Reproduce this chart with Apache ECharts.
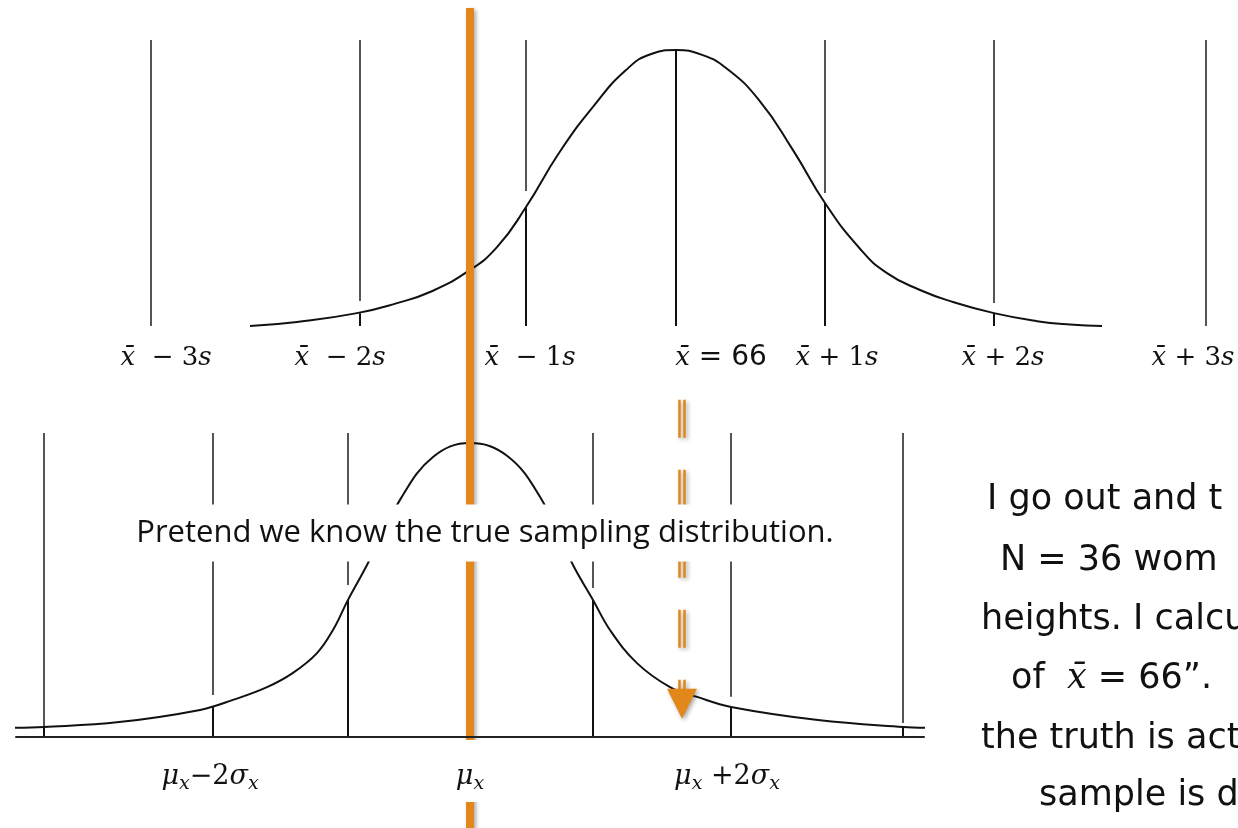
<!DOCTYPE html>
<html>
<head>
<meta charset="utf-8">
<script src="https://cdn.jsdelivr.net/npm/echarts@6/dist/echarts.min.js"></script>
<style>
  html, body { margin: 0; padding: 0; background: #fff; }
  #chart { width: 1238px; height: 828px; }
</style>
</head>
<body>
<div id="chart"></div>
<script>
// positions (x along the page), heights as a share of the guide-line height

// top: distribution of the sample
const topLineX = [151, 360, 526, 676, 825, 994, 1206]
const topGrayEnd = [0, 0.087, 0.472, null, 0.465, 0.08, 0]
const topCurveAtLine = [null, 0.045, 0.416, 0.965, 0.43, 0.045, null]
const topLabelX = [166, 340, 530, 721, 837, 1003, 1193]
const topLabels = [
  '{i|x\u0304}{n|  \u2212 3}{i|s}',
  '{i|x\u0304}{n|  \u2212 2}{i|s}',
  '{i|x\u0304}{n|  \u2212 1}{i|s}',
  '{i|x\u0304}{g| = 66}',
  '{i|x\u0304}{n| + 1}{i|s}',
  '{i|x\u0304}{n| + 2}{i|s}',
  '{i|x\u0304}{n| + 3}{i|s}'
]
const topCurveX = [250, 297, 357, 397, 430, 467, 497, 526, 559, 593, 626, 652, 676,
  702, 726, 759, 793, 825, 860, 887, 920, 953, 994, 1037, 1070, 1102]
const topCurveY = [0, 0.014, 0.045, 0.08, 0.119, 0.189, 0.276, 0.416, 0.605, 0.766, 0.895, 0.952, 0.965,
  0.948, 0.902, 0.79, 0.615, 0.43, 0.27, 0.185, 0.126, 0.084, 0.045, 0.017, 0.005, 0]

// bottom: the true sampling distribution
const botLineX = [44, 213, 348, 470, 593, 731, 903]
const botGrayEnd = [0.033, 0.138, 0.5, null, 0.49, 0.132, 0.046]
const botCurveAtLine = [0.033, 0.099, 0.451, 0.967, 0.451, 0.099, 0.033]
const botLabelX = [210, 470, 727]
const botLabels = [
  '{i|\u03bc}{s|x}{n|\u22122}{i|\u03c3}{s|x}',
  '{i|\u03bc}{s|x}',
  '{i|\u03bc}{s|x}{n| +2}{i|\u03c3}{s|x}'
]
const botCurveX = [12, 44, 119, 200, 233, 267, 293, 317, 333, 348, 367, 400, 433, 470,
  507, 540, 573, 593, 610, 637, 670, 697, 731, 818, 903, 928]
const botCurveY = [0.03, 0.033, 0.049, 0.089, 0.122, 0.164, 0.211, 0.276, 0.352, 0.451, 0.566, 0.78, 0.921, 0.967,
  0.925, 0.79, 0.566, 0.451, 0.352, 0.243, 0.164, 0.132, 0.099, 0.056, 0.033, 0.03]

// the true mean and the sample mean dropped onto the bottom curve
const muX = 470
const muSpan = [2.398, -0.299]
const xbarX = 682
const xbarDrop = [1.109, 0.155]
const arrowTip = 0.109

const ORANGE = '#E2871A'
const GRAY = '#555'
const INK = '#111'

const chart = echarts.init(document.getElementById('chart'))

const guideSegs = (xs, grayEnd, curveAt) => {
  const gray = []
  const black = []
  xs.forEach((x, i) => {
    if (grayEnd[i] !== null) gray.push({ coords: [[x, 1], [x, grayEnd[i]]] })
    if (curveAt[i] !== null) black.push({ coords: [[x, curveAt[i]], [x, 0]] })
  })
  return { gray, black }
}
const topSegs = guideSegs(topLineX, topGrayEnd, topCurveAtLine)
const botSegs = guideSegs(botLineX, botGrayEnd, botCurveAtLine)

const topRich = {
  i: { fontFamily: 'DejaVu Serif', fontStyle: 'italic', fontSize: 26, lineHeight: 34, color: '#111' },
  n: { fontFamily: 'DejaVu Serif', fontSize: 26, lineHeight: 34, color: '#111' },
  g: { fontFamily: 'DejaVu Sans', fontSize: 28, lineHeight: 34, color: '#111' }
}
const botRich = {
  i: { fontFamily: 'DejaVu Serif', fontStyle: 'italic', fontSize: 27, lineHeight: 34, color: '#111' },
  n: { fontFamily: 'DejaVu Serif', fontSize: 27, lineHeight: 34, color: '#111' },
  s: { fontFamily: 'DejaVu Serif', fontStyle: 'italic', fontSize: 19, lineHeight: 19, verticalAlign: 'bottom', color: '#111' }
}

const segStyle = (color) => ({ color, width: 2, opacity: 1, type: 'solid' })
const shadow = { shadowColor: 'rgba(0,0,0,0.35)', shadowBlur: 4, shadowOffsetX: 2, shadowOffsetY: 2 }

chart.setOption({
  animation: false,
  backgroundColor: '#fff',
  grid: [
    { left: 0, right: 0, top: 40, bottom: 502 },
    { left: 16, right: 314, top: 433, bottom: 91 }
  ],
  xAxis: [
    {
      gridIndex: 0, type: 'value', min: 0, max: 1238,
      axisLine: { show: false }, axisTick: { show: false }, splitLine: { show: false },
      axisLabel: {
        customValues: topLabelX, margin: 15, rich: topRich,
        formatter: (v) => topLabels[topLabelX.indexOf(v)]
      }
    },
    {
      gridIndex: 1, type: 'value', min: 16, max: 924, z: 10,
      axisLine: { show: true, lineStyle: { color: '#222', width: 2 } },
      axisTick: { show: false }, splitLine: { show: false },
      axisLabel: {
        customValues: botLabelX, margin: 3, rich: botRich,
        backgroundColor: '#fff', padding: [20, 6, 8, 6],
        formatter: (v) => botLabels[botLabelX.indexOf(v)]
      }
    }
  ],
  yAxis: [
    { gridIndex: 0, type: 'value', min: 0, max: 1, show: false },
    { gridIndex: 1, type: 'value', min: 0, max: 1, show: false }
  ],
  graphic: [
    {
      type: 'text', x: 485, y: 533, z: 100,
      style: {
        text: 'Pretend we know the true sampling distribution.',
        fontFamily: 'Open Sans', fontSize: 31, fill: '#111',
        align: 'center', verticalAlign: 'middle',
        backgroundColor: '#fff', padding: [13, 14]
      }
    },
    ...[
      ['I go out and t', 987, 500],
      ['N = 36 wom', 1000, 561],
      ['heights. I calcu', 981, 620],
      ['of  {m|x\u0304} = 66\u201d.', 1011, 679],
      ['the truth is act', 981, 739],
      ['sample is d', 1039, 796]
    ].map(([t, x, y]) => ({
      type: 'text', x, y, z: 100,
      style: {
        text: t, fontFamily: 'DejaVu Sans', fontSize: 35, fill: '#111',
        align: 'left', verticalAlign: 'middle',
        rich: { m: { fontFamily: 'DejaVu Serif', fontStyle: 'italic', fontSize: 35 } }
      }
    }))
  ],
  series: [
    { type: 'lines', coordinateSystem: 'cartesian2d', xAxisIndex: 0, yAxisIndex: 0, silent: true, z: 2,
      data: topSegs.gray, lineStyle: segStyle(GRAY) },
    { type: 'lines', coordinateSystem: 'cartesian2d', xAxisIndex: 0, yAxisIndex: 0, silent: true, z: 2,
      data: topSegs.black, lineStyle: segStyle(INK) },
    { type: 'line', xAxisIndex: 0, yAxisIndex: 0, silent: true, z: 3, smooth: 0.5, symbol: 'none',
      data: topCurveX.map((x, i) => [x, topCurveY[i]]), lineStyle: { color: INK, width: 2 } },

    { type: 'lines', coordinateSystem: 'cartesian2d', xAxisIndex: 1, yAxisIndex: 1, silent: true, z: 2,
      data: botSegs.gray, lineStyle: segStyle(GRAY) },
    { type: 'lines', coordinateSystem: 'cartesian2d', xAxisIndex: 1, yAxisIndex: 1, silent: true, z: 2,
      data: botSegs.black, lineStyle: segStyle(INK) },
    { type: 'line', xAxisIndex: 1, yAxisIndex: 1, silent: true, z: 3, smooth: 0.4, symbol: 'none', clip: false,
      data: botCurveX.map((x, i) => [x, botCurveY[i]]), lineStyle: { color: INK, width: 2 } },

    // true mean, runs across both panels
    { type: 'lines', coordinateSystem: 'cartesian2d', xAxisIndex: 1, yAxisIndex: 1, silent: true, z: 5, clip: false,
      data: [{ coords: [[muX, muSpan[0]], [muX, muSpan[1]]] }],
      lineStyle: Object.assign({ color: ORANGE, width: 8, opacity: 1 }, shadow) },

    // sample mean dropped down (double dashed)
    { type: 'lines', coordinateSystem: 'cartesian2d', xAxisIndex: 1, yAxisIndex: 1, silent: true, z: 5, clip: false,
      data: [-2.5, 2.5].map(d => ({ coords: [[xbarX + d, xbarDrop[0]], [xbarX + d, xbarDrop[1]]] })),
      lineStyle: Object.assign({ color: ORANGE, width: 2.5, opacity: 1, type: [38, 32] }, shadow) },
    { type: 'scatter', xAxisIndex: 1, yAxisIndex: 1, silent: true, z: 6,
      symbol: 'triangle', symbolRotate: 180, symbolSize: [30, 30],
      data: [[xbarX, arrowTip]],
      itemStyle: Object.assign({ color: ORANGE, opacity: 1 }, shadow) }
  ]
})
</script>
</body>
</html>
